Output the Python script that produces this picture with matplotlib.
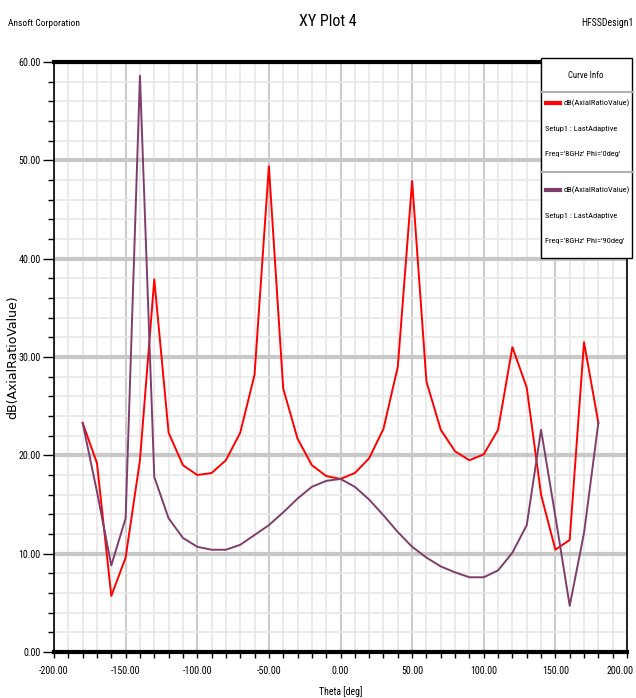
import matplotlib
matplotlib.use("Agg")
import matplotlib.pyplot as plt
from matplotlib.ticker import MultipleLocator, FormatStrFormatter
from matplotlib.patches import Rectangle
from matplotlib.lines import Line2D
from matplotlib.transforms import ScaledTranslation

theta = list(range(-180, 181, 10))
ar_phi0 = [23.3, 19.2, 5.7, 9.6, 19.5, 37.9, 22.3, 19.0, 18.0, 18.2,
           19.5, 22.3, 28.2, 49.4, 26.8, 21.7, 19.0, 17.9, 17.6, 18.2,
           19.7, 22.7, 29.0, 47.9, 27.5, 22.6, 20.4, 19.5, 20.1, 22.6,
           31.0, 26.9, 16.0, 10.4, 11.4, 31.5, 23.3]
ar_phi90 = [23.3, 16.3, 8.8, 13.6, 58.6, 17.8, 13.6, 11.6, 10.7, 10.4,
            10.4, 10.9, 11.9, 12.9, 14.2, 15.6, 16.8, 17.4, 17.6, 16.8,
            15.5, 13.9, 12.2, 10.7, 9.6, 8.7, 8.1, 7.6, 7.6, 8.3,
            10.1, 12.9, 22.6, 13.8, 4.7, 12.1, 23.3]

x_ticks = [-200, -150, -100, -50, 0, 50, 100, 150, 200]
x_ticklabels = ["-200.00", "-150.00", "-100.00", "-50.00", "0.00", "50.00", "100.00", "150.00", "200.00"]

series_names = ["dB(AxialRatioValue)", "dB(AxialRatioValue)"]
series_setup = ["Setup1 : LastAdaptive", "Setup1 : LastAdaptive"]
series_freq = ["Freq='8GHz' Phi='0deg'", "Freq='8GHz' Phi='90deg'"]
colors = ["#ff0000", "#7e3e6c"]

NARROW = ["Roboto Condensed", "DejaVu Sans"]

W, H = 636, 698
fig = plt.figure(figsize=(W / 100, H / 100), dpi=100)

def fx(px):
    return px / W

def fy(py):
    return 1 - py / H

L, R, T, B = 54, 627, 62, 652
ax = fig.add_axes([fx(L), fy(B), fx(R) - fx(L), fy(T) - fy(B)])

ax.plot(theta, ar_phi0, color=colors[0], lw=1.4, zorder=3)
ax.plot(theta, ar_phi90, color=colors[1], lw=1.4, zorder=3)

ax.set_xlim(-200, 200)
ax.set_ylim(0, 60)
ax.set_xticks(x_ticks)
ax.set_xticklabels(x_ticklabels)
ax.xaxis.set_minor_locator(MultipleLocator(10))
ax.yaxis.set_major_locator(MultipleLocator(10))
ax.yaxis.set_minor_locator(MultipleLocator(2))
ax.yaxis.set_major_formatter(FormatStrFormatter("%.2f"))

ax.grid(which="minor", color="#e8e8e8", lw=1.2, zorder=0)
ax.grid(which="major", axis="x", color="#cccccc", lw=1.5, zorder=0)
ax.grid(which="major", axis="y", color="#c8c8c8", lw=3.0, zorder=0)
ax.set_axisbelow(True)

ax.tick_params(axis="y", which="major", direction="out", length=8, width=1, pad=1.5, labelsize=7.2)
ax.tick_params(axis="y", which="minor", direction="out", length=4, width=1)
ax.tick_params(axis="x", which="major", direction="out", length=4, width=1, pad=6, labelsize=7.2)
ax.tick_params(axis="x", which="minor", direction="out", length=4, width=1)
for lab in ax.get_xticklabels() + ax.get_yticklabels():
    lab.set_family(NARROW)

last = ax.xaxis.get_major_ticks()[-1].label1
last.set_horizontalalignment("right")
last.set_transform(last.get_transform() + ScaledTranslation(7 / 100, 0, fig.dpi_scale_trans))

for side in ["left", "right"]:
    ax.spines[side].set_linewidth(1.2)
for side in ["top", "bottom"]:
    ax.spines[side].set_linewidth(3.0)

ax.set_xlabel("Theta [deg]", family=NARROW, fontsize=7.0)
ax.xaxis.set_label_coords(0.5, -(692 - B) / (B - T))
ax.xaxis.label.set_va("center")
ax.set_ylabel("dB(AxialRatioValue)", family="DejaVu Sans", fontsize=9.0)
ax.yaxis.set_label_coords(-(L - 13) / (R - L), 0.5)
ax.yaxis.label.set_va("center")

fig.text(fx(8), fy(23), "Ansoft Corporation", family=NARROW, fontsize=6.8, va="center", ha="left")
fig.text(fx(328), fy(22), "XY Plot 4", family=NARROW, fontsize=11.5, va="center", ha="center")
fig.text(fx(634), fy(23), "HFSSDesign1", family=NARROW, fontsize=7.0, va="center", ha="right")

# legend box
lx0, lx1, ly0, ly1 = 541, 632, 58, 258
fig.patches.append(Rectangle((fx(lx0), fy(ly1)), fx(lx1) - fx(lx0), fy(ly0) - fy(ly1),
                             transform=fig.transFigure, facecolor="white",
                             edgecolor="black", lw=1.0, zorder=10))
fig.text(fx(586), fy(75), "Curve Info", family=NARROW, fontsize=6.3, ha="center", va="center", zorder=11)
for yd in [92, 172]:
    fig.lines.append(Line2D([fx(lx0), fx(lx1)], [fy(yd), fy(yd)], transform=fig.transFigure,
                            color="#b0b0b0", lw=1.5, zorder=11))
for i, y0 in enumerate([103, 190]):
    fig.lines.append(Line2D([fx(546), fx(560)], [fy(y0), fy(y0)], transform=fig.transFigure,
                            color=colors[i], lw=3.0, zorder=11))
    fig.text(fx(564), fy(y0), series_names[i], family=NARROW, fontsize=6.0, ha="left", va="center", zorder=11)
    fig.text(fx(545), fy(y0 + 26), series_setup[i], family=NARROW, fontsize=6.0, ha="left", va="center", zorder=11)
    fig.text(fx(545), fy(y0 + 51), series_freq[i], family=NARROW, fontsize=6.0, ha="left", va="center", zorder=11)

fig.savefig("out.png", dpi=100)
